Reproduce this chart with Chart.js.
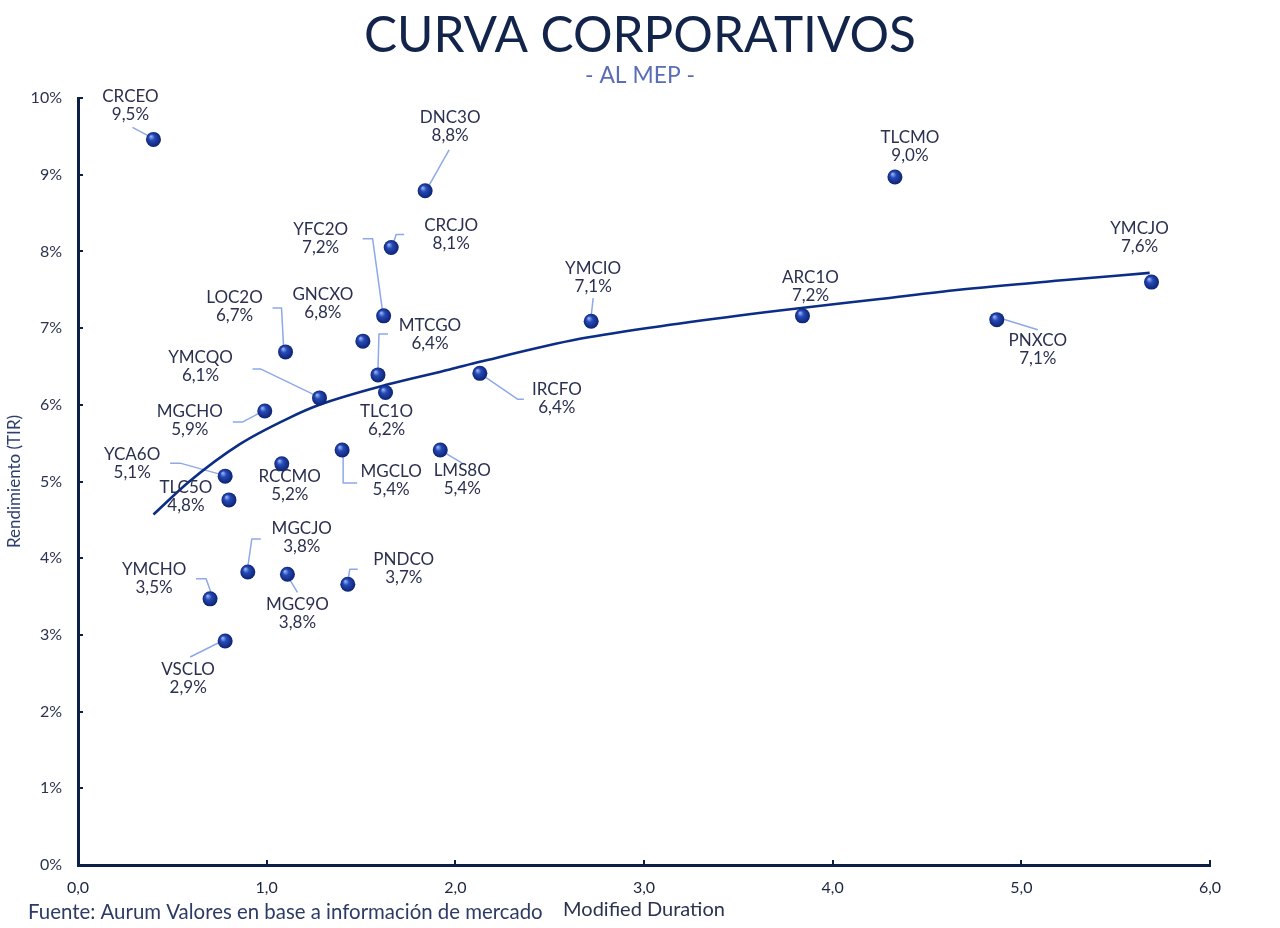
<!DOCTYPE html>
<html><head><meta charset="utf-8">
<script src="https://cdn.jsdelivr.net/npm/chart.js@4.4.1/dist/chart.umd.min.js"></script>
<style>html,body{margin:0;padding:0;background:#fff;}#wrap{width:1280px;height:928px;position:relative;}</style>
</head><body><div id="wrap"><canvas id="c" width="1280" height="928"></canvas></div>
<script>
// ---- data ----
const bonds = ['CRCEO','DNC3O','CRCJO','YFC2O','GNCXO','LOC2O','MTCGO','TLC1O','YMCQO','MGCHO','IRCFO','YMCIO','ARC1O','TLCMO','YMCJO','PNXCO','LMS8O','MGCLO','RCCMO','YCA6O','TLC5O','MGCJO','MGC9O','PNDCO','YMCHO','VSCLO'];
const duration = [0.40,1.84,1.66,1.62,1.51,1.10,1.59,1.63,1.28,0.99,2.13,2.72,3.84,4.33,5.69,4.87,1.92,1.40,1.08,0.78,0.80,0.90,1.11,1.43,0.70,0.78];
const yieldPct = [9.46,8.79,8.05,7.16,6.83,6.69,6.39,6.16,6.09,5.92,6.41,7.09,7.16,8.97,7.60,7.11,5.41,5.41,5.23,5.07,4.76,3.82,3.79,3.66,3.47,2.92];
const trendDuration = [0.40,0.59,0.86,1.12,1.28,1.65,1.97,2.13,2.66,3.19,3.72,4.25,4.67,5.20,5.68];
const trendYield = [4.57,5.00,5.49,5.83,6.00,6.27,6.46,6.56,6.86,7.06,7.23,7.38,7.50,7.62,7.72];
const titleText = 'CURVA CORPORATIVOS';
const subtitleText = '- AL MEP -';
const sourceText = 'Fuente: Aurum Valores en base a información de mercado';
const xTitle = 'Modified Duration';
const yTitle = 'Rendimiento (TIR)';

// ---- label placement (pixel offsets from each point), styling only ----
const labelLayout = {
  CRCEO:{dx:-23,dy:-43,leader:[[-21,-12],[-4,-3]]},
  DNC3O:{dx:25,dy:-73,leader:[[24,-41],[3,-4]]},
  CRCJO:{dx:60,dy:-22,leader:[[13,-13],[5,-13],[2,-4]]},
  YFC2O:{dx:-63,dy:-86,leader:[[-21,-77],[-11,-77],[-1,-4]]},
  GNCXO:{dx:-40,dy:-47},
  LOC2O:{dx:-51,dy:-54,leader:[[-13,-44],[-4,-44],[-2,-6]]},
  MTCGO:{dx:52,dy:-49,leader:[[10,-41],[1,-41],[0,-6]]},
  TLC1O:{dx:1,dy:19},
  YMCQO:{dx:-119,dy:-40,leader:[[-67,-29],[-59,-29],[-3,-2]]},
  MGCHO:{dx:-75,dy:1,leader:[[-32,11],[-22,11],[-3,1]]},
  IRCFO:{dx:77,dy:16,leader:[[44,26],[38,26],[0,0]]},
  YMCIO:{dx:2,dy:-53,leader:[[2,-23],[0,-5]]},
  ARC1O:{dx:8,dy:-38},
  TLCMO:{dx:15,dy:-39},
  YMCJO:{dx:-12,dy:-54},
  PNXCO:{dx:41,dy:21,leader:[[41,10],[2,-2]]},
  LMS8O:{dx:22,dy:20,leader:[[22,13],[0,0]]},
  MGCLO:{dx:49,dy:21,leader:[[15,33],[1,33],[1,2]]},
  RCCMO:{dx:8,dy:13},
  YCA6O:{dx:-93,dy:-22,leader:[[-55,-13],[-45,-13],[-2,-1]]},
  TLC5O:{dx:-43,dy:-12},
  MGCJO:{dx:54,dy:-43,leader:[[13,-33],[4,-33],[0,-5]]},
  MGC9O:{dx:10,dy:30,leader:[[10,18],[1,3]]},
  PNDCO:{dx:56,dy:-25,leader:[[10,-15],[2,-15],[0,-3]]},
  YMCHO:{dx:-56,dy:-29,leader:[[-14,-20],[-4,-20],[1,-6]]},
  VSCLO:{dx:-37,dy:28,leader:[[-35,16],[-5,1]]}
};

const FONT = 'Lato, "Noto Sans", sans-serif';
const AXIS = '#0e1f45';

function fitFont(ctx, text, weight, targetW, base){
  ctx.font = weight + ' ' + base + 'px ' + FONT;
  const w = ctx.measureText(text).width;
  return base * targetW / w;
}

const labelsPlugin = {
  id:'pointLabels',
  beforeDatasetsDraw(chart){
    const ctx = chart.ctx, xs = chart.scales.x, ys = chart.scales.y;
    ctx.save();
    ctx.strokeStyle = '#8ea9e8'; ctx.lineWidth = 1.5; ctx.lineJoin='round';
    bonds.forEach((b,i)=>{
      const L = labelLayout[b]; if(!L || !L.leader) return;
      const px = xs.getPixelForValue(duration[i]), py = ys.getPixelForValue(yieldPct[i]);
      ctx.beginPath();
      L.leader.forEach((p,k)=>{ if(k===0) ctx.moveTo(px+p[0],py+p[1]); else ctx.lineTo(px+p[0],py+p[1]); });
      ctx.stroke();
    });
    ctx.restore();
  },
  afterDatasetsDraw(chart){
    const ctx = chart.ctx, xs = chart.scales.x, ys = chart.scales.y;
    ctx.save();
    ctx.fillStyle = '#2a3150';
    ctx.font = '17px ' + FONT;
    ctx.textAlign = 'center'; ctx.textBaseline = 'middle';
    bonds.forEach((b,i)=>{
      const L = labelLayout[b];
      const px = xs.getPixelForValue(duration[i]), py = ys.getPixelForValue(yieldPct[i]);
      const lx = px + L.dx, ly = py + L.dy;
      ctx.fillText(b, lx, ly);
      ctx.fillText(yieldPct[i].toFixed(1).replace('.',',') + '%', lx, ly + 18);
    });
    ctx.restore();
  },
  afterDraw(chart){
    const ctx = chart.ctx;
    ctx.save();
    ctx.textBaseline = 'middle';
    ctx.textAlign = 'center';
    let fs = fitFont(ctx, titleText, '400', 552, 44);
    ctx.font = '400 ' + fs + 'px ' + FONT;
    ctx.fillStyle = '#13244a';
    ctx.fillText(titleText, 640, 36);
    fs = fitFont(ctx, subtitleText, '400', 110, 17);
    ctx.font = '400 ' + fs + 'px ' + FONT;
    ctx.fillStyle = '#5a6db5';
    ctx.fillText(subtitleText, 640, 76);
    ctx.textAlign = 'left';
    fs = fitFont(ctx, sourceText, '400', 515, 16);
    ctx.font = '400 ' + fs + 'px ' + FONT;
    ctx.fillStyle = '#2c3a66';
    ctx.fillText(sourceText, 28, 912);
    ctx.restore();
  }
};

function sphere(c){
  const chart = c.chart;
  if(!chart.scales || !chart.scales.x || !chart.scales.y || !c.raw) return '#1d3fa6';
  const px = chart.scales.x.getPixelForValue(c.raw.x), py = chart.scales.y.getPixelForValue(c.raw.y);
  if(!isFinite(px) || !isFinite(py)) return '#1d3fa6';
  const g = chart.ctx.createRadialGradient(px-2.5, py-3, 0.5, px, py, 8);
  g.addColorStop(0,'#93abf2'); g.addColorStop(0.35,'#2449b6'); g.addColorStop(1,'#0b1f6c');
  return g;
}

new Chart(document.getElementById('c'), {
  data:{
    datasets:[
      { type:'scatter', label:'Bonos', order:1,
        data: bonds.map((b,i)=>({x:duration[i], y:yieldPct[i]})),
        pointRadius:7.5, pointHoverRadius:7.5, borderWidth:0,
        backgroundColor: sphere },
      { type:'line', label:'Tendencia', order:2,
        data: trendDuration.map((x,i)=>({x:x, y:trendYield[i]})),
        borderColor:'#0b2d86', borderWidth:2.6, pointRadius:0, fill:false,
        cubicInterpolationMode:'monotone' }
    ]
  },
  options:{
    responsive:false, animation:false, devicePixelRatio:1,
    layout:{padding:{top:98,right:70,left:0,bottom:0}},
    plugins:{legend:{display:false}, tooltip:{enabled:false}},
    scales:{
      x:{ type:'linear', position:'bottom', min:0, max:6,
        ticks:{stepSize:1, padding:18, color:'#1a2540', font:{family:'"Liberation Sans Narrow", '+FONT, size:16},
          callback:v=>Number(v).toFixed(1).replace('.',',')},
        grid:{display:true, drawOnChartArea:false, drawTicks:true, tickLength:-5, color:AXIS, lineWidth:2},
        border:{display:true, color:AXIS, width:3},
        title:{display:true, text:xTitle, color:'#2b3350', font:{family:FONT, size:20}, padding:{top:0,bottom:6}},
        afterFit:s=>{s.height=63;} },
      y:{ type:'linear', position:'left', min:0, max:10,
        ticks:{stepSize:1, padding:21, color:'#2b3350', font:{family:FONT, size:16}, callback:v=>v+'%'},
        grid:{display:true, drawOnChartArea:false, drawTicks:true, tickLength:-5, color:AXIS, lineWidth:2},
        border:{display:true, color:AXIS, width:3},
        title:{display:true, text:yTitle, color:'#2d3e6e', font:{family:FONT, size:17}},
        afterFit:s=>{s.width=78;} }
    }
  },
  plugins:[labelsPlugin]
});
</script></body></html>
